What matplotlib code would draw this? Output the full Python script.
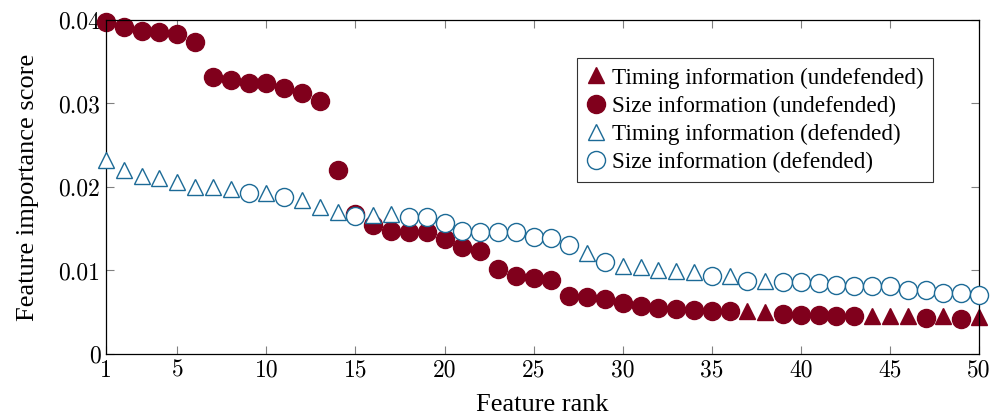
import numpy as np
from matplotlib import pyplot as plt
from matplotlib.lines import Line2D

# feature ranks 1..50
rank = np.arange(1, 51)

# undefended scores by rank, and which kind of feature each rank is (T = timing, S = size)
undef_score = [0.0398, 0.0392, 0.0387, 0.0386, 0.0383, 0.0374, 0.0332, 0.0328, 0.0325, 0.0325,
               0.0319, 0.0313, 0.0303, 0.0220, 0.0168, 0.0155, 0.0147, 0.0146, 0.0146, 0.0138,
               0.0128, 0.0123, 0.0102, 0.0093, 0.0091, 0.0089, 0.0070, 0.0068, 0.0066, 0.0061,
               0.0057, 0.0055, 0.0054, 0.0053, 0.0052, 0.0052, 0.0052, 0.0050, 0.0048, 0.0047,
               0.0047, 0.0046, 0.0046, 0.0046, 0.0046, 0.0046, 0.0043, 0.0045, 0.0042, 0.0044]
undef_kind = "SSSSSSSSSSSSSSSSSSSSSSSSSSSSSSSSSSSSTTSSSSSTTTSTST"

# defended
def_score = [0.0232, 0.0220, 0.0213, 0.0211, 0.0206, 0.0200, 0.0200, 0.0198, 0.0193, 0.0193,
             0.0188, 0.0185, 0.0176, 0.0170, 0.0165, 0.0167, 0.0168, 0.0164, 0.0164, 0.0157,
             0.0147, 0.0146, 0.0146, 0.0146, 0.0140, 0.0139, 0.0131, 0.0121, 0.0110, 0.0105,
             0.0104, 0.0100, 0.0099, 0.0098, 0.0094, 0.0093, 0.0088, 0.0087, 0.0086, 0.0086,
             0.0085, 0.0083, 0.0082, 0.0082, 0.0081, 0.0077, 0.0077, 0.0073, 0.0073, 0.0071]
def_kind = "TTTTTTTTSTSTTTSTTSSSSSSSSSSTSTTTTTSTSTSSSSSSSSSSSS"

red = '#80001c'
blue = '#1c6a96'

plt.rcParams['font.family'] = ['Liberation Serif']

fig = plt.figure(figsize=(9.92, 4.18), dpi=100)
ax = fig.add_axes([0.1069, 0.1531, 0.88, 0.7991])

def pick(scores, kinds, k):
    xs = [r for r, c in zip(rank, kinds) if c == k]
    ys = [s for s, c in zip(scores, kinds) if c == k]
    return xs, ys

x, y = pick(def_score, def_kind, 'T')
ax.plot(x, y, '^', ms=11.5, mfc='white', mec=blue, mew=1.0, clip_on=False, zorder=3)
x, y = pick(def_score, def_kind, 'S')
ax.plot(x, y, 'o', ms=13, mfc='white', mec=blue, mew=1.0, clip_on=False, zorder=3)
x, y = pick(undef_score, undef_kind, 'T')
ax.plot(x, y, '^', ms=11.5, color=red, mec=red, clip_on=False, zorder=2)
x, y = pick(undef_score, undef_kind, 'S')
ax.plot(x, y, 'o', ms=13, color=red, mec=red, clip_on=False, zorder=2)

ax.set_xlim(1, 50)
ax.set_ylim(0, 0.04)
xt = [1, 5, 10, 15, 20, 25, 30, 35, 40, 45, 50]
yt = [0, 0.01, 0.02, 0.03, 0.04]
ax.set_xticks(xt)
ax.set_xticklabels([str(v) for v in xt], family='cmr10', fontsize=17)
ax.set_yticks(yt)
ax.set_yticklabels(['0', '0.01', '0.02', '0.03', '0.04'], family='cmr10', fontsize=17)
ax.tick_params(direction='in', length=6, width=0.8, color='#808080', top=True, right=True, pad=4)
for s in ax.spines.values():
    s.set_linewidth(0.9)

ax.set_xlabel('Feature rank', fontsize=19, labelpad=9)
ax.set_ylabel('Feature importance score', fontsize=19, labelpad=14)

handles = [
    Line2D([], [], ls='none', marker='^', ms=11.5, color=red),
    Line2D([], [], ls='none', marker='o', ms=13, color=red),
    Line2D([], [], ls='none', marker='^', ms=11.5, mfc='white', mec=blue, mew=1.0),
    Line2D([], [], ls='none', marker='o', ms=13, mfc='white', mec=blue, mew=1.0),
]
labels = ['Timing information (undefended)', 'Size information (undefended)',
          'Timing information (defended)', 'Size information (defended)']
leg = ax.legend(handles, labels, loc='upper left', bbox_to_anchor=(0.5395, 0.886),
                fontsize=16.7, frameon=True, fancybox=False, edgecolor='black',
                handlelength=0.8, handletextpad=0.3, labelspacing=0.3, borderpad=0.4,
                borderaxespad=0)
leg.get_frame().set_linewidth(0.8)

fig.savefig('out.png', dpi=100)
